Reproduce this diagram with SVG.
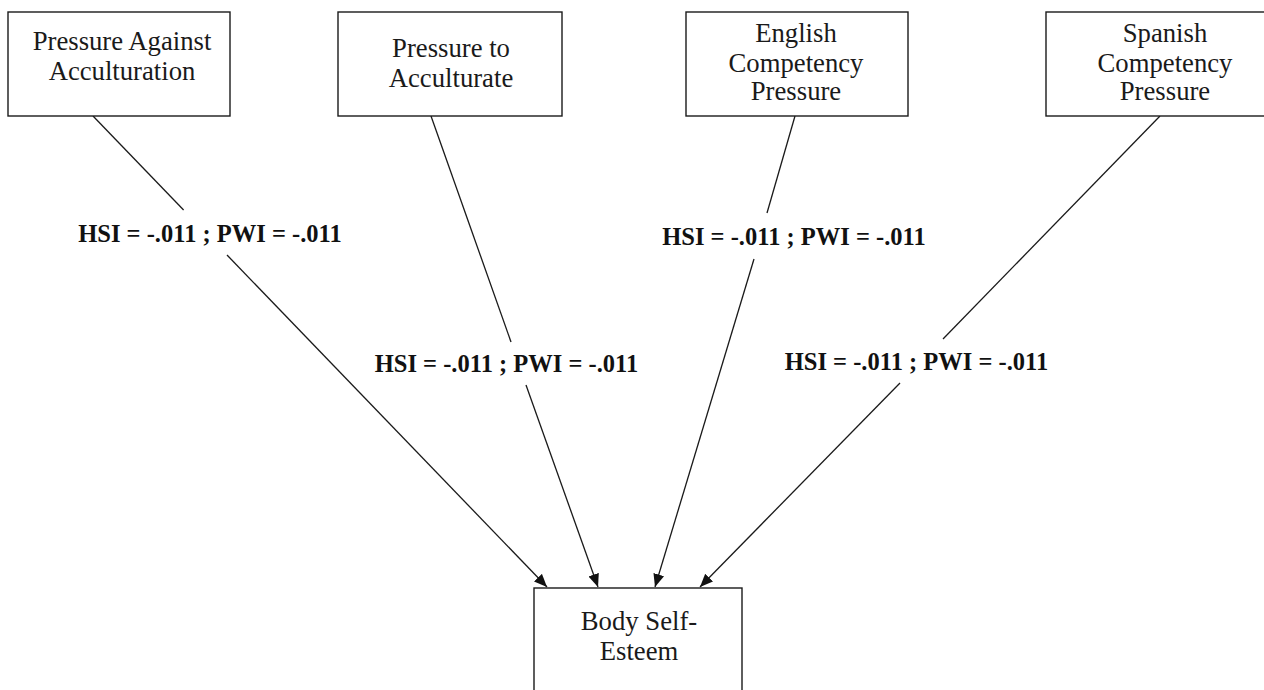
<svg xmlns="http://www.w3.org/2000/svg" width="1264" height="690" viewBox="0 0 1264 690">
<style>
.box{fill:#fff;stroke:#1a1a1a;stroke-width:1.4}
.t{font-family:"Liberation Serif","Times New Roman",serif;font-size:26.7px;fill:#1a1a1a;text-anchor:middle}
.lbl{font-family:"Liberation Serif","Times New Roman",serif;font-size:24.5px;font-weight:bold;fill:#111;text-anchor:middle}
.c{stroke:#1a1a1a;stroke-width:1.3;fill:none}
</style>
<defs>
<marker id="arr" markerUnits="userSpaceOnUse" markerWidth="14" markerHeight="12" refX="13" refY="5.5" orient="auto">
<path d="M0,0 L13,5.5 L0,11 z" fill="#111"/>
</marker>
</defs>
<rect width="1264" height="690" fill="#fff"/>
<g id="connectors">
<line class="c" x1="93" y1="116" x2="183.6" y2="210"/>
<line class="c" x1="227" y1="255" x2="547" y2="587" marker-end="url(#arr)"/>
<line class="c" x1="431" y1="116" x2="511" y2="342"/>
<line class="c" x1="526" y1="385" x2="598" y2="587" marker-end="url(#arr)"/>
<line class="c" x1="795" y1="116" x2="767" y2="213"/>
<line class="c" x1="754" y1="259" x2="655" y2="587" marker-end="url(#arr)"/>
<line class="c" x1="1160" y1="116" x2="943" y2="339"/>
<line class="c" x1="900" y1="383" x2="700" y2="587" marker-end="url(#arr)"/>
</g>
<g id="labels">
<text class="lbl" x="210" y="242">HSI = -.011 ; PWI = -.011</text>
<text class="lbl" x="506.5" y="372">HSI = -.011 ; PWI = -.011</text>
<text class="lbl" x="794" y="245">HSI = -.011 ; PWI = -.011</text>
<text class="lbl" x="916.5" y="370">HSI = -.011 ; PWI = -.011</text>
</g>
<g id="pressure-against">
<rect class="box" x="8" y="12" width="222" height="104"/>
<text class="t" x="122" y="50">Pressure Against</text>
<text class="t" x="122" y="80">Acculturation</text>
</g>
<g id="pressure-to">
<rect class="box" x="338" y="12" width="224" height="104"/>
<text class="t" x="451" y="57">Pressure to</text>
<text class="t" x="451" y="87">Acculturate</text>
</g>
<g id="english">
<rect class="box" x="686" y="12" width="222" height="104"/>
<text class="t" x="796" y="42">English</text>
<text class="t" x="796" y="71.5">Competency</text>
<text class="t" x="796" y="100">Pressure</text>
</g>
<g id="spanish">
<rect class="box" x="1046" y="12" width="240" height="104"/>
<text class="t" x="1165" y="42">Spanish</text>
<text class="t" x="1165" y="71.5">Competency</text>
<text class="t" x="1165" y="100">Pressure</text>
</g>
<g id="body-self-esteem">
<rect class="box" x="534" y="588" width="208" height="120"/>
<text class="t" x="639" y="630">Body Self-</text>
<text class="t" x="639" y="660">Esteem</text>
</g>
</svg>
